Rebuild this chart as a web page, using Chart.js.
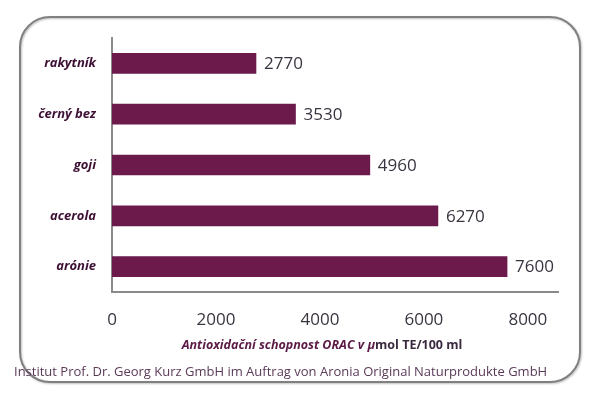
<!DOCTYPE html>
<html>
<head>
<meta charset="utf-8">
<script src="https://cdn.jsdelivr.net/npm/chart.js@4"></script>
<style>
  html, body { margin: 0; padding: 0; background: #fff; }
  #wrap { width: 604px; height: 402px; position: relative; }
</style>
</head>
<body>
<div id="wrap"><canvas id="orac" width="604" height="402"></canvas></div>
<script>
// data
const fruits = ["rakytník", "černý bez", "goji", "acerola", "arónie"];
const oracValues = [2770, 3530, 4960, 6270, 7600];
const xTicks = [0, 2000, 4000, 6000, 8000];

const FONT = "'Open Sans', 'DejaVu Sans', sans-serif";
const BAR = "#6b1a4b";

// frame + footer + axis title
const decor = {
  id: "decor",
  beforeDraw(chart) {
    const ctx = chart.ctx;
    ctx.save();
    ctx.fillStyle = "#fff";
    ctx.fillRect(0, 0, chart.width, chart.height);
    ctx.shadowColor = "rgba(0,0,0,0.25)";
    ctx.shadowBlur = 2;
    ctx.shadowOffsetX = 1;
    ctx.shadowOffsetY = 1;
    ctx.strokeStyle = "#808080";
    ctx.lineWidth = 2;
    ctx.beginPath();
    ctx.roundRect(20, 17, 560, 365, 30);
    ctx.stroke();
    ctx.restore();
  },
  afterDraw(chart) {
    const ctx = chart.ctx;
    ctx.save();
    ctx.textBaseline = "middle";
    // axis title: italic part + plain bold part
    const p1 = "Antioxidační schopnost ORAC v μ";
    const p2 = "mol TE/100 ml";
    const f1 = "italic bold 12.5px " + FONT;
    const f2 = "bold 12.5px " + FONT;
    ctx.font = f1;
    const w1 = ctx.measureText(p1).width;
    ctx.font = f2;
    const w2 = ctx.measureText(p2).width;
    const x0 = 322 - (w1 + w2) / 2;
    ctx.textAlign = "left";
    ctx.font = f1;
    ctx.fillStyle = "#5a1a45";
    ctx.fillText(p1, x0, 345);
    ctx.font = f2;
    ctx.fillStyle = "#3a2a40";
    ctx.fillText(p2, x0 + w1, 345);
    // footer
    ctx.font = "13px " + FONT;
    ctx.fillStyle = "#5a3a58";
    ctx.fillText("Institut Prof. Dr. Georg Kurz GmbH im Auftrag von Aronia Original Naturprodukte GmbH", 14, 372);
    // value labels
    ctx.font = "17px " + FONT;
    ctx.fillStyle = "#3a3340";
    const meta = chart.getDatasetMeta(0);
    meta.data.forEach((bar, i) => {
      ctx.fillText(String(oracValues[i]), bar.x + 8, bar.y + 1);
    });
    ctx.restore();
  }
};

new Chart(document.getElementById("orac"), {
  type: "bar",
  data: {
    labels: fruits,
    datasets: [{
      data: oracValues,
      backgroundColor: BAR,
      borderWidth: 0,
      barThickness: 20
    }]
  },
  options: {
    indexAxis: "y",
    responsive: false,
    animation: false,
    devicePixelRatio: 1,
    layout: { padding: { left: 0, right: 46, top: 38, bottom: 0 } },
    plugins: { legend: { display: false }, tooltip: { enabled: false } },
    scales: {
      x: {
        min: 0,
        max: 8580,
        afterBuildTicks(axis) { axis.ticks = xTicks.map(v => ({ value: v })); },
        afterFit(axis) { axis.height = 110; },
        grid: { display: false },
        border: { display: true, color: "#8a8a8a", width: 2 },
        ticks: {
          padding: 10,
          maxRotation: 0,
          color: "#3a3340",
          font: { family: FONT, size: 17 },
          callback: (v) => String(v)
        }
      },
      y: {
        afterFit(axis) { axis.width = 112; },
        grid: { display: false },
        border: { display: true, color: "#8a8a8a", width: 2 },
        ticks: {
          padding: 8,
          color: "#3d1033",
          font: { family: FONT, size: 13, style: "italic", weight: "bold" }
        }
      }
    }
  },
  plugins: [decor]
});
</script>
</body>
</html>
